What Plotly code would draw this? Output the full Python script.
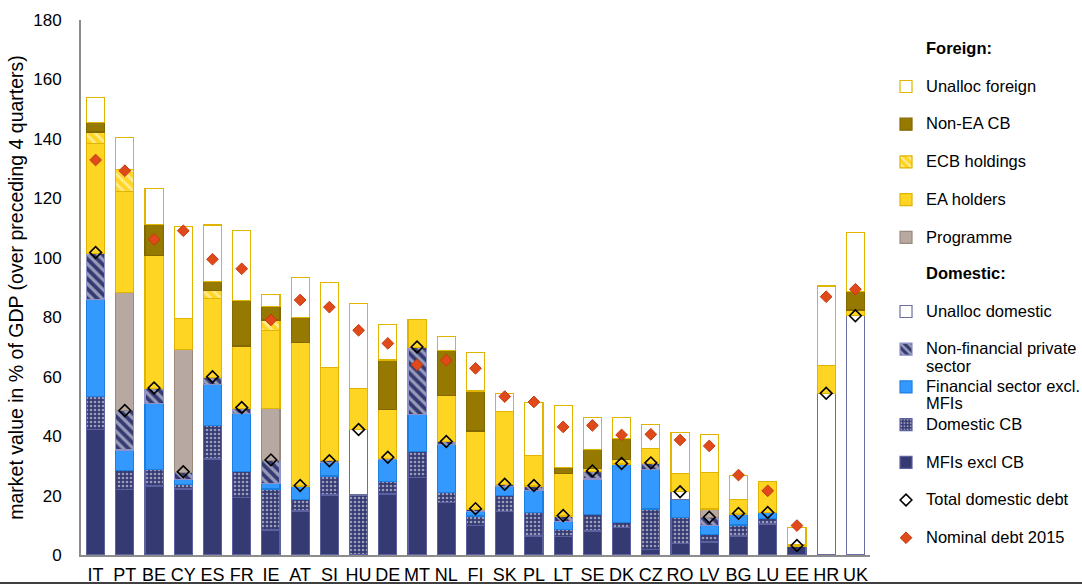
import plotly.graph_objects as go

countries = ["IT", "PT", "BE", "CY", "ES", "FR", "IE", "AT", "SI", "HU", "DE", "MT", "NL", "FI",
             "SK", "PL", "LT", "SE", "DK", "CZ", "RO", "LV", "BG", "LU", "EE", "HR", "UK"]

# Domestic holders (% of GDP)
mfis_excl_cb = [42.1, 22.1, 23.2, 22.2, 32.3, 19.4, 8.4, 14.8, 20.2, 0, 20.5, 26.0, 17.7, 9.8,
                14.6, 6.4, 6.2, 8.1, 9.3, 1.9, 3.9, 4.4, 6.4, 10.4, 3.0, 0, 0]
domestic_cb = [11.2, 6.2, 5.7, 1.4, 11.2, 8.6, 13.8, 3.9, 6.4, 20.2, 4.2, 8.8, 3.3, 3.3,
               5.3, 7.8, 2.4, 5.6, 1.6, 13.6, 8.8, 2.6, 3.7, 1.8, 0, 0, 0]
financial_excl_mfi = [32.7, 7.0, 22.1, 1.9, 14.0, 19.7, 1.9, 4.5, 4.6, 0, 7.4, 12.6, 16.3, 1.5,
                      3.1, 7.4, 2.6, 11.9, 19.7, 13.3, 6.0, 2.8, 3.7, 2.0, 0, 0, 0]
nonfin_private = [15.5, 13.3, 4.9, 2.3, 2.3, 1.7, 7.6, 0, 0.5, 0, 0.4, 22.5, 0.8, 0.8,
                  0.6, 1.6, 1.9, 2.4, 0, 2.1, 0, 2.9, 0, 0, 0, 0, 0]
unalloc_domestic = [0, 0, 0, 0, 0, 0, 0, 0, 0, 21.9, 0, 0, 0, 0,
                    0, 0, 0, 0, 0, 0, 2.6, 0, 0, 0, 0, 54.4, 80.5]
# Foreign holders (% of GDP)
programme = [0, 39.7, 0, 41.4, 0, 0, 17.7, 0, 0, 0, 0, 0, 0, 0,
             0, 0, 0, 0, 0, 0, 0, 2.8, 0, 0, 0, 0, 0]
ea_holders = [37.0, 33.9, 45.0, 10.4, 26.6, 20.9, 26.1, 48.4, 31.5, 13.8, 16.5, 9.4, 15.5, 26.3,
              24.6, 10.4, 14.4, 1.2, 1.6, 5.0, 6.0, 12.2, 4.9, 10.5, 0.4, 9.3, 1.9]
ecb_holdings = [3.8, 7.6, 0, 0, 2.7, 0, 3.6, 0, 0, 0, 0, 0, 0, 0,
                0, 0, 0, 0, 0, 0, 0, 0, 0, 0, 0, 0, 0]
non_ea_cb = [3.2, 0, 10.4, 0, 2.9, 15.3, 4.4, 8.4, 0, 0, 16.6, 0, 15.2, 13.5,
             0, 0, 1.9, 6.4, 7.1, 0, 0, 0, 0, 0, 0, 0, 6.2]
unalloc_foreign = [8.3, 10.7, 12.1, 31.0, 19.0, 23.5, 4.1, 13.3, 28.6, 28.6, 11.9, 0, 4.6, 12.9,
                   6.1, 17.6, 20.8, 10.6, 6.9, 8.1, 14.0, 12.8, 8.1, 0, 5.9, 26.8, 19.8]
# Markers
total_domestic_debt = [101.8, 48.6, 56.2, 28.0, 60.0, 49.6, 32.0, 23.4, 31.7, 42.2, 32.9, 70.0, 38.2, 15.6,
                       23.8, 23.4, 13.3, 28.3, 30.8, 31.0, 21.3, 12.7, 14.0, 14.3, 3.2, 54.4, 80.5]
nominal_debt_2015 = [132.9, 129.3, 106.2, 109.1, 99.5, 96.3, 79.1, 85.8, 83.4, 75.6, 71.2, 64.0, 65.5, 62.8,
                     53.3, 51.5, 43.1, 43.6, 40.4, 40.6, 38.7, 36.7, 26.9, 21.6, 9.9, 86.9, 89.4]

NAVY = "#353a72"
NAVY_LINE = "#5c61a0"
GOLD = "#ffd524"
GOLD_LINE = "#e0b400"
FONT = "Arial, Liberation Sans, sans-serif"
LEG_SIZE = 16.5


def nz(vals):
    return [v if v else None for v in vals]


def leg(*lines, bold=False):
    parts = []
    for ln in lines:
        t = f"<b>{ln}</b>" if bold else ln
        parts.append(f'<span style="font-size:{LEG_SIZE}px">{t}</span>')
    if len(parts) == 1:
        parts.append(" ")
    return "<br>".join(parts)


fig = go.Figure()

# (label lines, values, fill, line colour, pattern, legend id, legend rank)
bar_series = [
    (("MFIs excl CB",), mfis_excl_cb, NAVY, NAVY_LINE, None, "legend2", 6),
    (("Domestic CB",), domestic_cb, NAVY, NAVY_LINE,
     dict(shape=".", fgcolor="#ffffff", bgcolor=NAVY, size=4, solidity=0.35, fillmode="overlay"),
     "legend2", 5),
    (("Financial sector excl.", "MFIs"), financial_excl_mfi, "#3399ff", "#1c7fe0", None,
     "legend2", 4),
    (("Non-financial private", "sector"), nonfin_private, NAVY, "#8e92c8",
     dict(shape="\\", fgcolor="#ffffff", bgcolor=NAVY, size=7, solidity=0.45, fillmode="overlay"),
     "legend2", 3),
    (("Unalloc domestic",), unalloc_domestic, "#ffffff", "#6b6f9f", None, "legend2", 2),
    (("Programme",), programme, "#b7a9a1", "#9c897e", None, "legend", 6),
    (("EA holders",), ea_holders, GOLD, GOLD_LINE, None, "legend", 5),
    (("ECB holdings",), ecb_holdings, GOLD, GOLD_LINE,
     dict(shape="\\", fgcolor="#ffffff", bgcolor=GOLD, size=7, solidity=0.4, fillmode="overlay"),
     "legend", 4),
    (("Non-EA CB",), non_ea_cb, "#957900", "#826800", None, "legend", 3),
    (("Unalloc foreign",), unalloc_foreign, "#ffffff", GOLD_LINE, None, "legend", 2),
]

for lines, vals, fill, line, pattern, legid, rank in bar_series:
    marker = dict(color=fill, line=dict(color=line, width=1.2))
    if pattern:
        marker["pattern"] = pattern
    fig.add_trace(go.Bar(
        x=countries, y=nz(vals), name=leg(*lines), marker=marker,
        legend=legid, legendrank=rank, hoverinfo="x+y",
    ))

# Legend headers (traces without data)
fig.add_trace(go.Bar(x=countries, y=[None] * len(countries), name=leg("Foreign:", bold=True),
                     marker=dict(color="rgba(0,0,0,0)", line=dict(width=0)),
                     legend="legend", legendrank=1))
fig.add_trace(go.Bar(x=countries, y=[None] * len(countries), name=leg("Domestic:", bold=True),
                     marker=dict(color="rgba(0,0,0,0)", line=dict(width=0)),
                     legend="legend2", legendrank=1))

fig.add_trace(go.Scatter(
    x=countries, y=total_domestic_debt, mode="markers", name=leg("Total domestic debt"),
    marker=dict(symbol="diamond", size=9, color="rgba(255,255,255,0)",
                line=dict(color="#000000", width=1.6)),
    legend="legend2", legendrank=7,
))
fig.add_trace(go.Scatter(
    x=countries, y=nominal_debt_2015, mode="markers", name=leg("Nominal debt 2015"),
    marker=dict(symbol="diamond", size=9, color="#e04a1a",
                line=dict(color="#c23a10", width=1)),
    legend="legend2", legendrank=8,
))

legend_common = dict(
    xanchor="left", yanchor="top",
    font=dict(family=FONT, size=13.35, color="#000000"),
    valign="top", traceorder="normal", tracegroupgap=0,
    bgcolor="rgba(255,255,255,0)", borderwidth=0,
)

fig.update_layout(
    width=1082, height=587,
    margin=dict(l=81, r=212, t=20, b=32, autoexpand=False),
    paper_bgcolor="#ffffff", plot_bgcolor="#ffffff",
    barmode="stack", bargap=0.38,
    font=dict(family=FONT, color="#000000"),
    showlegend=True,
    legend=dict(x=1.0203, y=0.9746, **legend_common),
    legend2=dict(x=1.0203, y=0.554, **legend_common),
    xaxis=dict(
        type="category", categoryorder="array", categoryarray=countries,
        range=[-0.5, len(countries) - 0.5],
        showline=True, linecolor="#8c8c8c", linewidth=2,
        showgrid=False, ticks="", tickangle=0, tickfont=dict(size=18, family=FONT),
        ticklabelstandoff=2, zeroline=False,
    ),
    yaxis=dict(
        range=[0, 180], tick0=0, dtick=20,
        showline=True, linecolor="#8c8c8c", linewidth=2,
        showgrid=False, ticks="", tickfont=dict(size=17, family=FONT),
        ticklabelstandoff=14, zeroline=False,
        title=dict(text="market value in % of GDP (over preceding 4 quarters)",
                   font=dict(size=19.5, family=FONT), standoff=4),
    ),
    shapes=[dict(type="line", xref="paper", yref="paper", x0=-0.2, x1=1.4,
                 y0=-0.0523, y1=-0.0523, line=dict(color="#000000", width=1.5))],
)

fig.write_html(
    "out.html",
    config={"displayModeBar": False},
    post_script="document.body.style.margin='0px';document.body.style.overflow='hidden';",
)
